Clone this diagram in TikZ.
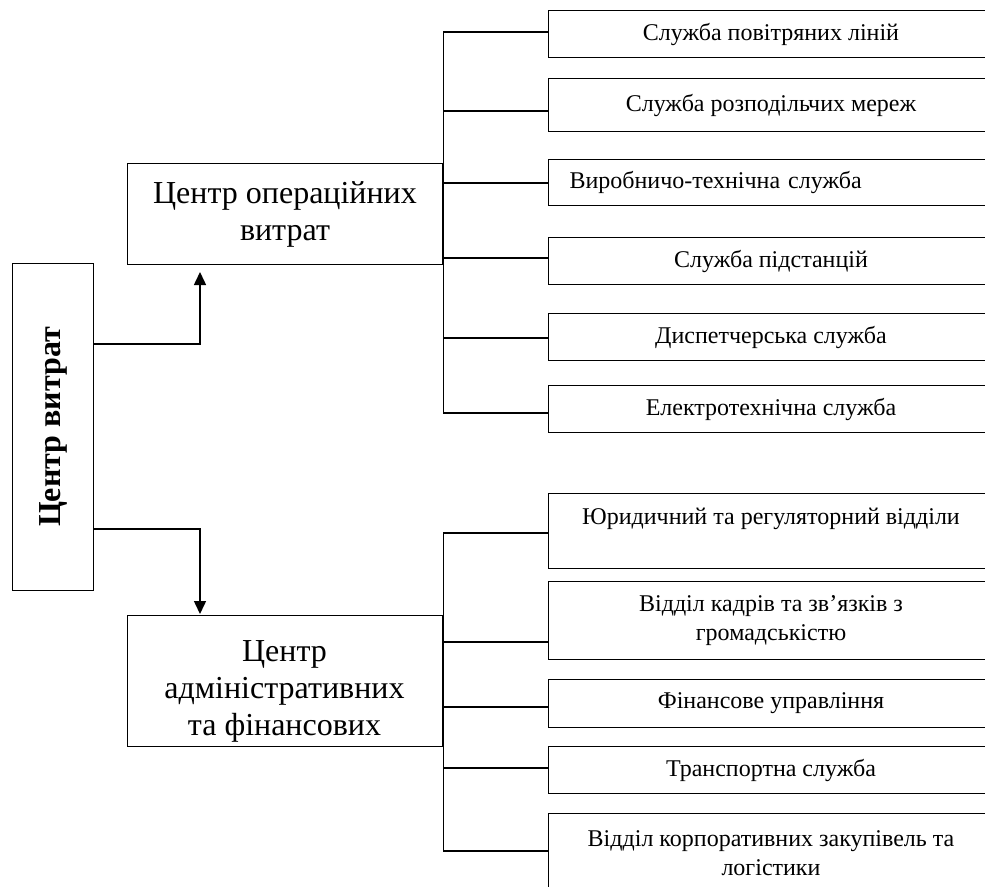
\documentclass[tikz,border=0pt]{standalone}
\usepackage{fontspec}
\setmainfont{Liberation Serif}
\usetikzlibrary{arrows.meta}

\begin{document}
\begin{tikzpicture}[x = 1pt, y = -1pt, > = {Triangle[length = 13pt, width = 12pt]}, line width = 1pt,
	unit/.style = {draw, rectangle, anchor = north west, minimum width = 445pt, inner sep = 0pt,
		font = \fontsize{24}{28.5}\selectfont, align = center},
	centre/.style = {draw, rectangle, anchor = north west, minimum width = 315pt, inner sep = 0pt},
	bigtext/.style = {font = \fontsize{32}{37}\selectfont, align = center},
	link/.style = {line width = 1.5pt}]

	% Page and clipping (the unit boxes run off to the right)
	
	\useasboundingbox (0, 0) rectangle (985, 886);
	\clip (0, 0) rectangle (985, 886);

	% Cost centre
	
	\node [draw, anchor = north west, minimum width = 81pt, minimum height = 327pt, inner sep = 0pt] (total) at (12, 263) {};
	\node [rotate = 90, font = \bfseries\fontsize{32}{37}\selectfont] (totaltext) at (total.center) {Центр витрат};
	
	% Sub-centres
	
	\node [centre, bigtext, minimum height = 101pt] (oper) at (127, 163) {Центр операційних\\витрат};
	\node [centre, minimum height = 131pt] (adm) at (127, 615) {};
	\node [bigtext] (admtext) at (284.5, 691) {Центр\\адміністративних\\та фінансових};
	
	% Operating units
	
	\node [unit, minimum height = 47pt] (s1) at (548, 10) {Служба повітряних ліній};
	\node [unit, minimum height = 53pt] (s2) at (548, 78) {Служба розподільчих мереж};
	\node [unit, minimum height = 46pt, text width = 403pt, align = left] (s3) at (548, 159) {Виробничо-технічна служба};
	\node [unit, minimum height = 47pt] (s4) at (548, 237) {Служба підстанцій};
	\node [unit, minimum height = 47pt] (s5) at (548, 313) {Диспетчерська служба};
	\node [unit, minimum height = 47pt] (s6) at (548, 385) {Електротехнічна служба};
	
	% Administrative units
	
	\node [unit, minimum height = 75pt] (a1) at (548, 493) {Юридичний та регуляторний відділи\\~};
	\node [unit, minimum height = 78pt] (a2) at (548, 581) {Відділ кадрів та зв’язків з\\громадськістю};
	\node [unit, minimum height = 48pt] (a3) at (548, 679) {Фінансове управління};
	\node [unit, minimum height = 47pt] (a4) at (548, 746) {Транспортна служба};
	\node [unit, minimum height = 79pt] (a5) at (548, 813) {Відділ корпоративних закупівель та\\логістики};
	
	% Arrows to the sub-centres
	
	\draw [link, ->] (total.east |- 0, 344) -| ([xshift = 73pt, yshift = -7pt] oper.south west);
	\draw [link, ->] (total.east |- 0, 529) -| ([xshift = 73pt, yshift = 1pt] adm.north west);
	
	% Buses
	
	\draw (oper.east |- 0, 32) -- (oper.east |- 0, 413);
	\draw (adm.east |- 0, 533) -- (adm.east |- 0, 851);
	
	\foreach \U/\Y in {s1/32, s2/111, s3/183, s4/258, s5/338, s6/413}
		\draw [link] (oper.east |- 0, \Y) -- (\U.west |- 0, \Y);
	
	\foreach \U/\Y in {a1/533, a2/642, a3/707, a4/768, a5/851}
		\draw [link] (adm.east |- 0, \Y) -- (\U.west |- 0, \Y);

\end{tikzpicture}
\end{document}
